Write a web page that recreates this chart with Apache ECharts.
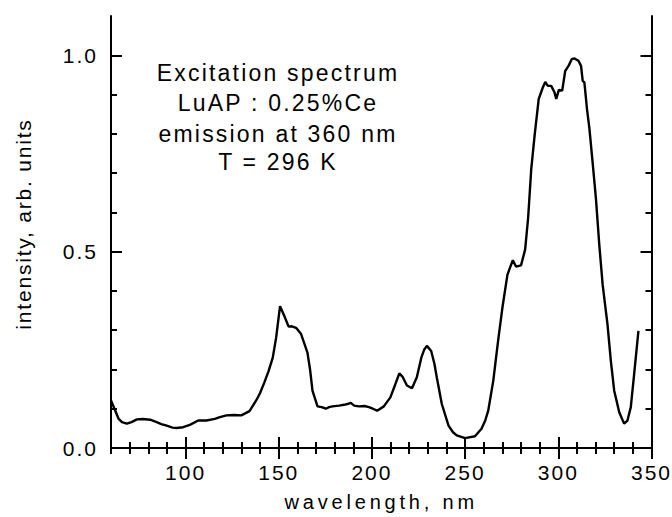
<!DOCTYPE html>
<html>
<head>
<meta charset="utf-8">
<script src="https://cdn.jsdelivr.net/npm/echarts@6/dist/echarts.min.js"></script>
<style>
html,body{margin:0;padding:0;background:#fff;}
#chart{width:672px;height:517px;}
</style>
</head>
<body>
<div id="chart"></div>
<script>
// wavelength (nm) and intensity (arb. units)
const wavelength = [60,62.3,64,65.9,68.5,71,73.9,77,81,84.5,87,89.9,93,95.2,98.7,102.3,106.8,111.2,115.7,118,121.9,126,129.9,134.3,137.9,140,142.3,144.5,146.8,148.6,150.7,153,155.3,157,159.3,161.9,163.8,165.4,166.8,168.1,170.8,173,175.3,177,178.8,182.4,185,186.8,188.6,190.5,193,196,198.4,200.5,202.8,206.4,209.9,212.6,214.7,216.5,218.8,221.5,224.1,226.5,228,229.5,231.8,233.5,234.8,237.5,241.1,243.5,245.5,250,255.3,258.8,260.8,262.4,265.1,267.7,270,272.7,274,275.6,277.3,280,282.2,283.8,285.5,287.3,289.5,291.7,293,294.4,296.2,298,298.9,300.3,302.1,303.7,305.5,307.2,308.7,310.8,312.2,313.1,314,315.4,316.7,318.4,320.2,322,323.8,326.4,328.2,330,332.7,335.3,337.1,338.9,340.7,343];
const intensity = [0.121,0.095,0.075,0.066,0.062,0.066,0.073,0.074,0.072,0.066,0.061,0.057,0.052,0.051,0.053,0.059,0.070,0.070,0.074,0.078,0.083,0.084,0.083,0.094,0.121,0.140,0.167,0.195,0.230,0.281,0.361,0.336,0.309,0.310,0.306,0.291,0.265,0.243,0.200,0.146,0.106,0.104,0.100,0.104,0.106,0.108,0.110,0.112,0.115,0.108,0.106,0.107,0.104,0.100,0.095,0.106,0.129,0.163,0.190,0.181,0.159,0.152,0.180,0.230,0.250,0.260,0.247,0.215,0.180,0.112,0.057,0.040,0.032,0.025,0.030,0.049,0.070,0.095,0.171,0.273,0.357,0.441,0.458,0.478,0.462,0.465,0.505,0.585,0.711,0.796,0.889,0.918,0.932,0.922,0.922,0.905,0.889,0.912,0.910,0.960,0.973,0.990,0.992,0.986,0.973,0.935,0.931,0.863,0.813,0.728,0.635,0.517,0.416,0.315,0.222,0.146,0.091,0.062,0.070,0.104,0.188,0.298];

// ticks
const xMajorTicks = [100,150,200,250,300,350];
const xMinorTicks = [60,70,80,90,110,120,130,140,160,170,180,190,210,220,230,240,260,270,280,290,310,320,330,340];
const yMajorTicks = [0,0.5,1.0];
const yMinorTicks = [0.1,0.2,0.3,0.4,0.6,0.7,0.8,0.9];

const annotationLines = ['Excitation spectrum','LuAP : 0.25%Ce','emission at 360 nm','T = 296 K'];
const xName = 'wavelength, nm';
const yName = 'intensity, arb. units';

const FONT = "'Liberation Sans', Arial, Helvetica, sans-serif";
const lineW = 2;

function xAxisDef(pos, ticks, len, showLine, showLabel, extra){
  return Object.assign({
    type:'value', position:pos, min:60, max:350,
    axisLine:{show:showLine, lineStyle:{color:'#000', width:lineW}},
    axisTick:{show:true, inside:true, length:len, customValues:ticks, lineStyle:{color:'#000', width:lineW}},
    axisLabel:{show:showLabel, customValues:ticks, margin:14, color:'#000', fontSize:21, fontFamily:FONT},
    splitLine:{show:false}
  }, extra||{});
}
function yAxisDef(pos, ticks, len, showLine, showLabel, extra){
  return Object.assign({
    type:'value', position:pos, min:0, max:1.1,
    axisLine:{show:showLine, lineStyle:{color:'#000', width:lineW}},
    axisTick:{show:true, inside:true, length:len, customValues:ticks, lineStyle:{color:'#000', width:lineW}},
    axisLabel:{show:showLabel, customValues:ticks, margin:13, color:'#000', fontSize:21, fontFamily:FONT,
      formatter:function(v){return v.toFixed(1);}},
    splitLine:{show:false}
  }, extra||{});
}

const chart = echarts.init(document.getElementById('chart'), null, {renderer:'svg'});
const option = {
  backgroundColor:'#fff',
  animation:false,
  grid:{left:111, right:19, top:16, bottom:66, containLabel:false},
  xAxis:[
    xAxisDef('bottom', xMajorTicks, 11, true, true, {
      name:xName, nameLocation:'middle', nameGap:44,
      nameTextStyle:{color:'#000', fontSize:20, fontFamily:FONT}
    }),
    xAxisDef('bottom', xMinorTicks, 6, false, false),
    xAxisDef('top', xMajorTicks, 11, true, false),
    xAxisDef('top', xMinorTicks, 6, false, false)
  ],
  yAxis:[
    yAxisDef('left', yMajorTicks, 11, true, true, {
      name:yName, nameLocation:'middle', nameGap:77,
      nameTextStyle:{color:'#000', fontSize:21, fontFamily:FONT, padding:[0,0,0,16]}
    }),
    yAxisDef('left', yMinorTicks, 6, false, false),
    yAxisDef('right', yMajorTicks, 11, true, false),
    yAxisDef('right', yMinorTicks, 6, false, false)
  ],
  graphic: annotationLines.map(function(t,i){
    const ys = [72.5,103,133.5,161.5];
    return {type:'text', x:278, y:ys[i], silent:true,
      style:{text:t, fill:'#000', fontSize:23, fontFamily:FONT, textAlign:'center', textVerticalAlign:'middle'}};
  }),
  series:[{
    type:'line', xAxisIndex:0, yAxisIndex:0,
    data: wavelength.map(function(w,i){return [w, intensity[i]];}),
    showSymbol:false, smooth:false,
    lineStyle:{color:'#000', width:2.4},
    itemStyle:{color:'#000'}
  }]
};
chart.setOption(option);

function applySpacing(){
  const texts = document.querySelectorAll('#chart text');
  texts.forEach(function(el){
    const t = el.textContent;
    let s = '2px';
    if (annotationLines.indexOf(t) >= 0) s = '2.2px';
    else if (t === xName) s = '3.8px';
    else if (t === yName) s = '1.8px';
    el.setAttribute('letter-spacing', s);
  });
}
applySpacing();
chart.on('finished', applySpacing);
setTimeout(applySpacing, 50);
</script>
</body>
</html>
